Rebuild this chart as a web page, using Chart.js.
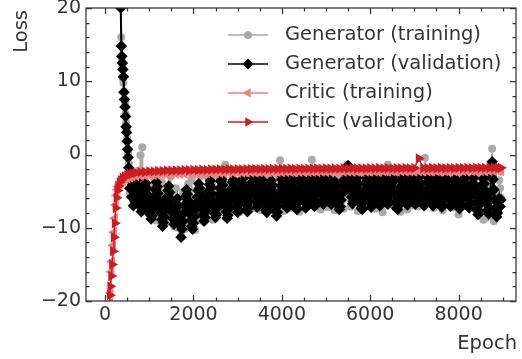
<!DOCTYPE html>
<html>
<head>
<meta charset="utf-8">
<script src="https://cdn.jsdelivr.net/npm/chart.js"></script>
<style>
html, body { margin: 0; padding: 0; background: #fff; }
#wrap { width: 522px; height: 359px; }
</style>
</head>
<body>
<div id="wrap"><canvas id="lossChart" width="522" height="359"></canvas></div>
<script>
// epochs logged for the generator (dense at the start, every 20 afterwards)
const genEpochs = [354,366,378,390,402,414,426,438,450,462,474,486,498,510,522,534,546,560,580,600,620,640,660,680,700,
  720,740,760,780,800,820,840,860,880,900,920,940,960,980,1000,1020,1040,1060,1080,1100,
  1120,1140,1160,1180,1200,1220,1240,1260,1280,1300,1320,1340,1360,1380,1400,1420,1440,1460,1480,1500,
  1520,1540,1560,1580,1600,1620,1640,1660,1680,1700,1720,1740,1760,1780,1800,1820,1840,1860,1880,1900,
  1920,1940,1960,1980,2000,2020,2040,2060,2080,2100,2120,2140,2160,2180,2200,2220,2240,2260,2280,2300,
  2320,2340,2360,2380,2400,2420,2440,2460,2480,2500,2520,2540,2560,2580,2600,2620,2640,2660,2680,2700,
  2720,2740,2760,2780,2800,2820,2840,2860,2880,2900,2920,2940,2960,2980,3000,3020,3040,3060,3080,3100,
  3120,3140,3160,3180,3200,3220,3240,3260,3280,3300,3320,3340,3360,3380,3400,3420,3440,3460,3480,3500,
  3520,3540,3560,3580,3600,3620,3640,3660,3680,3700,3720,3740,3760,3780,3800,3820,3840,3860,3880,3900,
  3920,3940,3960,3980,4000,4020,4040,4060,4080,4100,4120,4140,4160,4180,4200,4220,4240,4260,4280,4300,
  4320,4340,4360,4380,4400,4420,4440,4460,4480,4500,4520,4540,4560,4580,4600,4620,4640,4660,4680,4700,
  4720,4740,4760,4780,4800,4820,4840,4860,4880,4900,4920,4940,4960,4980,5000,5020,5040,5060,5080,5100,
  5120,5140,5160,5180,5200,5220,5240,5260,5280,5300,5320,5340,5360,5380,5400,5420,5440,5460,5480,5500,
  5520,5540,5560,5580,5600,5620,5640,5660,5680,5700,5720,5740,5760,5780,5800,5820,5840,5860,5880,5900,
  5920,5940,5960,5980,6000,6020,6040,6060,6080,6100,6120,6140,6160,6180,6200,6220,6240,6260,6280,6300,
  6320,6340,6360,6380,6400,6420,6440,6460,6480,6500,6520,6540,6560,6580,6600,6620,6640,6660,6680,6700,
  6720,6740,6760,6780,6800,6820,6840,6860,6880,6900,6920,6940,6960,6980,7000,7020,7040,7060,7080,7100,
  7120,7140,7160,7180,7200,7220,7240,7260,7280,7300,7320,7340,7360,7380,7400,7420,7440,7460,7480,7500,
  7520,7540,7560,7580,7600,7620,7640,7660,7680,7700,7720,7740,7760,7780,7800,7820,7840,7860,7880,7900,
  7920,7940,7960,7980,8000,8020,8040,8060,8080,8100,8120,8140,8160,8180,8200,8220,8240,8260,8280,8300,
  8320,8340,8360,8380,8400,8420,8440,8460,8480,8500,8520,8540,8560,8580,8600,8620,8640,8660,8680,8700,
  8720,8740,8760,8780,8800,8820,8840,8860,8880,8900,8920,8940,8960];

const genTrain = [21,16.0,12.7,12.0,10.4,9.8,8.6,7.5,7.2,5.6,4.4,3.4,2.2,0.4,0.2,-1.2,-2.4,-5.2,-2.6,-4.8,-3.6,-6.2,-4.4,-5.8,-4.6,
  -3.0,-4.5,-2.2,-3.8,-0.1,-2.5,1.0,-4.0,-3.5,-5.2,-6.5,-4.4,-2.7,-6.0,-8.0,-6.6,-4.6,-5.3,-3.0,-6.1,
  -3.4,-7.2,-9.0,-6.5,-5.5,-7.9,-8.8,-6.0,-3.8,-8.1,-9.5,-5.7,-7.0,-6.8,-4.4,-7.4,-9.2,-6.2,-3.0,-5.8,
  -6.5,-8.3,-9.8,-7.0,-4.6,-8.9,-10.0,-7.7,-7.4,-9.3,-11.0,-8.5,-5.2,-7.2,-10.2,-9.1,-8.8,-6.6,-4.0,-7.9,
  -9.6,-6.1,-3.4,-7.0,-8.5,-9.2,-10.3,-6.4,-4.8,-7.5,-8.4,-5.9,-3.0,-6.8,-9.0,-7.3,-5.6,-8.0,-8.2,-6.5,
  -3.1,-5.6,-7.7,-6.2,-5.0,-7.1,-8.9,-5.4,-2.8,-4.6,-6.4,-7.3,-8.0,-5.8,-3.5,-6.0,-7.4,-5.2,-4.9,-6.7,
  -1.4,-4.8,-8.0,-6.1,-4.2,-5.5,-7.3,-5.0,-2.9,-6.4,-7.6,-6.9,-5.6,-4.7,-3.6,-5.9,-7.9,-6.2,-4.0,-5.4,
  -7.0,-5.2,-2.8,-4.7,-6.4,-5.5,-7.4,-6.3,-4.1,-5.8,-2.6,-4.9,-7.3,-6.0,-5.5,-4.4,-3.0,-5.1,-6.6,-5.7,
  -7.6,-5.5,-3.1,-4.4,-5.7,-6.0,-2.7,-5.2,-7.2,-5.8,-4.6,-5.3,-3.3,-4.9,-7.5,-6.2,-2.9,-4.7,-6.1,-5.6,
  -3.2,-4.9,-0.8,-3.9,-6.2,-5.1,-7.7,-6.0,-3.6,-4.8,-5.2,-5.7,-2.8,-5.0,-7.3,-6.1,-4.4,-5.4,-6.8,-4.6,
  -6.0,-4.7,-3.0,-5.3,-7.8,-6.1,-4.2,-5.0,-2.9,-4.4,-5.5,-6.3,-7.0,-5.2,-3.3,-4.8,-6.2,-4.5,-0.7,-3.8,
  -3.4,-5.6,-6.9,-4.9,-2.8,-4.0,-4.9,-6.3,-7.5,-5.4,-3.2,-4.6,-5.8,-4.2,-2.7,-5.5,-7.2,-6.0,-4.5,-5.1,
  -2.9,-4.3,-5.1,-6.2,-7.6,-5.4,-3.5,-5.0,-6.4,-4.6,-2.8,-3.9,-4.7,-6.1,-7.4,-5.2,-3.0,-2.6,-1.4,-4.2,
  -5.4,-6.0,-7.1,-4.8,-2.7,-4.5,-6.2,-5.3,-4.0,-5.8,-7.7,-5.5,-3.3,-4.6,-5.9,-6.3,-6.8,-5.0,-3.1,-4.4,
  -4.5,-5.8,-7.0,-4.7,-2.9,-4.4,-6.3,-5.1,-3.6,-5.6,-7.4,-6.0,-5.1,-4.2,-2.8,-5.3,-6.6,-7.0,-7.9,-6.1,
  -4.1,-3.6,-2.7,-2.2,-1.4,-4.5,-6.8,-5.4,-4.3,-3.9,-3.0,-5.6,-7.2,-6.1,-5.0,-4.4,-2.9,-5.3,-7.8,-6.0,
  -3.1,-4.7,-6.4,-5.5,-4.6,-6.0,-7.5,-5.2,-2.8,-4.1,-5.3,-6.2,-6.9,-5.0,-3.5,-4.3,-4.8,-5.9,-7.1,-5.6,
  -2.9,-4.2,-5.6,-6.3,-7.0,-4.0,-0.45,-2.9,-3.8,-5.1,-6.2,-4.5,-2.8,-3.7,-4.9,-6.0,-7.3,-5.2,-3.4,-4.8,
  -6.5,-4.6,-3.0,-4.2,-5.2,-6.4,-7.6,-5.7,-4.1,-3.6,-2.7,-4.9,-6.9,-5.8,-5.0,-4.1,-3.3,-5.5,-7.2,-6.1,
  -4.7,-5.4,-6.0,-7.3,-8.2,-5.9,-3.1,-5.0,-7.0,-5.6,-4.4,-3.8,-2.8,-4.9,-6.7,-6.1,-5.3,-4.5,-3.6,-5.7,
  -6.8,-5.1,-3.3,-5.6,-7.5,-6.2,-5.0,-4.3,-2.9,-5.8,-7.7,-8.3,-8.9,-7.4,-6.1,-7.0,-8.6,-6.3,-4.0,-5.5,
  -7.2,-2.0,0.8,-4.8,-9.1,-8.0,-6.3,-7.1,-8.4,-5.6,-3.5,-4.6,-5.9];

const genVal = [20.0,14.8,13.4,12.5,11.6,10.6,8.5,7.5,6.5,5.2,3.8,3.0,1.8,0.7,-0.4,-1.8,-3.0,-4.6,-3.2,-5.8,-4.1,-7.0,-3.6,-6.4,-5.0,
  -3.4,-4.3,-5.2,-6.1,-7.0,-7.8,-7.4,-6.5,-5.6,-4.7,-3.9,-4.6,-5.5,-6.4,-7.3,-8.2,-8.8,-8.4,-7.5,-6.6,
  -5.7,-4.8,-3.8,-4.4,-5.3,-6.2,-7.1,-8.0,-8.9,-9.8,-9.3,-8.5,-7.6,-6.7,-5.8,-4.9,-4.3,-5.2,-6.1,-7.0,
  -7.9,-8.8,-9.5,-8.7,-7.8,-6.9,-6.0,-7.0,-8.3,-9.7,-11.3,-10.2,-9.1,-8.0,-6.9,-5.8,-4.8,-5.4,-6.3,-7.2,
  -8.1,-9.0,-9.8,-10.2,-9.4,-8.5,-7.6,-6.7,-5.8,-4.9,-4.0,-4.6,-5.5,-6.4,-7.3,-8.2,-9.1,-8.6,-7.7,-6.8,
  -5.9,-5.0,-4.1,-3.6,-4.5,-5.4,-6.3,-7.2,-8.1,-8.6,-8.2,-7.3,-6.4,-5.5,-4.6,-3.7,-3.4,-4.2,-5.1,-6.0,
  -6.9,-7.8,-8.7,-8.3,-7.4,-6.5,-5.6,-4.7,-3.8,-3.5,-4.4,-5.3,-6.2,-7.1,-7.9,-7.5,-6.6,-5.7,-4.8,-3.9,
  -3.3,-4.2,-5.1,-6.0,-6.9,-7.8,-7.4,-6.5,-5.6,-4.7,-3.8,-3.1,-3.7,-4.6,-5.5,-6.4,-7.2,-6.9,-6.0,-5.1,
  -4.2,-3.4,-4.0,-4.9,-5.8,-6.7,-7.6,-7.9,-7.2,-6.3,-5.4,-4.5,-3.6,-4.1,-5.0,-5.9,-6.8,-7.7,-8.4,-7.9,
  -7.0,-6.1,-5.2,-4.3,-3.4,-3.0,-3.8,-4.7,-5.6,-6.5,-7.3,-6.9,-6.0,-5.1,-4.2,-3.3,-3.6,-4.5,-5.4,-6.3,
  -7.2,-7.5,-6.6,-5.7,-4.8,-3.9,-3.2,-3.7,-4.6,-5.5,-6.4,-7.3,-6.8,-5.9,-5.0,-4.1,-3.3,-4.0,-4.9,-5.8,
  -6.7,-7.1,-6.3,-5.4,-4.5,-3.6,-3.0,-3.5,-4.4,-5.3,-6.2,-6.8,-6.4,-5.5,-4.6,-3.7,-3.2,-4.1,-5.0,-5.9,
  -6.8,-6.4,-5.5,-4.6,-3.7,-4.3,-5.2,-6.1,-7.0,-7.5,-7.1,-6.2,-5.3,-4.4,-3.5,-4.0,-4.9,-4.2,-3.0,-1.5,
  -3.1,-4.0,-4.9,-5.8,-6.7,-6.4,-5.5,-4.6,-3.7,-3.2,-4.1,-5.0,-5.9,-6.8,-7.3,-7.5,-6.6,-5.7,-4.8,-3.9,
  -3.2,-3.6,-4.5,-5.4,-6.3,-7.2,-6.8,-5.9,-5.0,-4.1,-3.2,-3.7,-4.6,-5.5,-6.4,-7.0,-6.6,-5.7,-4.8,-3.9,
  -3.3,-4.1,-5.0,-5.9,-6.8,-6.5,-5.6,-4.7,-3.8,-3.1,-3.7,-4.6,-5.5,-6.4,-7.3,-7.5,-7.0,-6.1,-5.2,-4.3,
  -3.4,-3.0,-3.8,-4.7,-5.6,-6.5,-6.9,-6.2,-5.3,-4.4,-3.5,-3.2,-4.1,-5.0,-5.9,-6.8,-6.4,-5.5,-4.6,-3.7,
  -3.1,-3.9,-4.8,-5.7,-6.6,-7.0,-6.6,-5.7,-4.8,-3.9,-3.2,-3.6,-4.5,-5.4,-6.3,-7.0,-6.7,-5.8,-4.9,-4.0,
  -3.2,-3.7,-4.6,-5.5,-6.4,-7.2,-6.9,-6.0,-5.1,-4.2,-3.3,-3.5,-4.4,-5.3,-6.2,-7.1,-6.9,-6.0,-5.1,-4.2,
  -3.3,-3.8,-4.7,-5.6,-6.5,-7.4,-7.0,-6.1,-5.2,-4.3,-3.4,-3.2,-4.1,-5.0,-5.9,-6.8,-7.3,-6.6,-5.7,-4.8,
  -3.9,-3.2,-4.4,-5.5,-6.6,-7.6,-8.2,-7.7,-6.8,-5.9,-5.0,-4.1,-3.3,-4.0,-4.9,-5.8,-6.7,-7.6,-8.1,-7.3,
  -5.2,-3.0,-1.0,-3.4,-4.8,-6.2,-7.4,-8.5,-8.0,-7.0,-6.0,-7.1,-6.2];

// epochs logged for the critic
const criticEpochs = [100,110,120,140,160,180,200,220,240,260,280,300,330,360,400,450,500,560,620,
  700,800,900,1000,1100,1200,1300,1400,1500,1600,
  1700,1800,1900,2000,2100,2200,2300,2400,2500,2600,
  2700,2800,2900,3000,3100,3200,3300,3400,3500,3600,
  3700,3800,3900,4000,4100,4200,4300,4400,4500,4600,
  4700,4800,4900,5000,5100,5200,5300,5400,5500,5600,
  5700,5800,5900,6000,6100,6200,6300,6400,6500,6600,
  6700,6800,6900,7000,7100,7200,7300,7400,7500,7600,
  7700,7800,7900,8000,8100,8200,8300,8400,8500,8600,
  8700,8800,8900,8960];

const criticTrain = [-22.8,-20.3,-18.9,-16.0,-14.6,-12.4,-10.6,-8.7,-6.9,-5.6,-4.8,-4.4,-4.1,-3.85,-3.6,-3.4,-3.25,-3.1,-3.02,
  -2.95,-2.90,-2.83,-2.81,-2.76,-2.75,-2.70,-2.70,-2.66,-2.65,
  -2.63,-2.62,-2.59,-2.59,-2.56,-2.57,-2.54,-2.55,-2.52,-2.52,
  -2.50,-2.50,-2.47,-2.49,-2.46,-2.47,-2.44,-2.46,-2.43,-2.44,
  -2.42,-2.43,-2.41,-2.42,-2.40,-2.41,-2.39,-2.40,-2.38,-2.39,
  -2.37,-2.38,-2.36,-2.38,-2.35,-2.37,-2.35,-2.36,-2.34,-2.36,
  -2.33,-2.35,-2.33,-2.34,-2.32,-2.34,-2.31,-2.33,-2.31,-2.33,
  -2.30,-2.32,-2.30,-2.32,-2.29,-2.31,-2.29,-2.31,-2.28,-2.30,
  -2.28,-2.30,-2.27,-2.29,-2.27,-2.29,-2.26,-2.28,-2.26,-2.28,
  -2.25,-2.27,-2.25,-2.26];

const criticVal = [-21.5,-19.2,-18.0,-16.6,-15.0,-13.2,-11.3,-9.4,-7.3,-5.9,-4.9,-4.3,-3.8,-3.5,-3.2,-3.0,-2.85,-2.7,-2.6,
  -2.50,-2.40,-2.39,-2.31,-2.31,-2.25,-2.26,-2.20,-2.21,-2.16,
  -2.18,-2.13,-2.15,-2.10,-2.12,-2.08,-2.10,-2.05,-2.07,-2.03,
  -2.06,-2.02,-2.04,-2.00,-2.03,-1.99,-2.01,-1.98,-2.00,-1.97,
  -1.99,-1.96,-1.98,-1.95,-1.97,-1.94,-1.97,-1.93,-1.96,-1.93,
  -1.95,-1.92,-1.94,-1.91,-1.94,-1.91,-1.93,-1.90,-1.92,-1.90,
  -1.92,-1.89,-1.91,-1.88,-1.91,-1.88,-1.90,-1.87,-1.90,-1.87,
  -1.89,-1.86,-1.89,-1.86,-0.55,-1.85,-1.88,-1.85,-1.88,-1.84,
  -1.87,-1.84,-1.87,-1.83,-1.86,-1.83,-1.86,-1.82,-1.85,-1.82,
  -1.85,-1.81,-1.84,-1.82];

const xTicks = [0, 2000, 4000, 6000, 8000];
const xMinor = [500,1000,1500,2500,3000,3500,4500,5000,5500,6500,7000,7500,8500,9000];
const yTicks = [-20, -10, 0, 10, 20];
const yMinor = [-18,-16,-14,-12,-8,-6,-4,-2,2,4,6,8,12,14,16,18];

const FONT = 'DejaVu Sans';
const INK = '#333333';

function pairs(xs, ys) {
  return xs.map((e, i) => ({ x: e, y: ys[i] }));
}

// plain numbers with a real minus sign, like matplotlib
function tickText(v) {
  return v < 0 ? '\u2212' + Math.abs(v) : String(v);
}

// axes frame with inward ticks on all four sides, plus the axis titles
const frameTicks = {
  id: 'frameTicks',
  afterDraw(chart) {
    const { ctx, chartArea: a, scales: { x, y } } = chart;
    ctx.save();
    ctx.strokeStyle = INK;
    ctx.lineWidth = 1.25;
    ctx.strokeRect(a.left, a.top, a.right - a.left, a.bottom - a.top);
    ctx.beginPath();
    const xt = (vals, len) => vals.forEach(v => {
      const px = Math.round(x.getPixelForValue(v)) + 0.5;
      ctx.moveTo(px, a.bottom); ctx.lineTo(px, a.bottom - len);
      ctx.moveTo(px, a.top); ctx.lineTo(px, a.top + len);
    });
    const yt = (vals, len) => vals.forEach(v => {
      const py = Math.round(y.getPixelForValue(v)) + 0.5;
      ctx.moveTo(a.left, py); ctx.lineTo(a.left + len, py);
      ctx.moveTo(a.right, py); ctx.lineTo(a.right - len, py);
    });
    xt(xTicks, 6); xt(xMinor, 3.5);
    yt(yTicks, 6); yt(yMinor, 3.5);
    ctx.stroke();

    ctx.fillStyle = INK;
    ctx.font = '19.5px "' + FONT + '"';
    ctx.textBaseline = 'alphabetic';
    ctx.textAlign = 'right';
    ctx.fillText('Epoch', a.right + 1, 349);
    ctx.translate(27, a.top + 2);
    ctx.rotate(-Math.PI / 2);
    ctx.fillText('Loss', 0, 0);
    ctx.restore();
  }
};

// legend drawn inside the plot, matplotlib style (line + marker)
const lossLegend = {
  id: 'lossLegend',
  afterDraw(chart) {
    const ctx = chart.ctx;
    ctx.save();
    chart.data.datasets.forEach((ds, i) => {
      const yy = 35 + i * 29;
      ctx.strokeStyle = ds.borderColor;
      ctx.lineWidth = 1.5;
      ctx.beginPath();
      ctx.moveTo(228, yy);
      ctx.lineTo(268, yy);
      ctx.stroke();
      ctx.fillStyle = ds.pointBackgroundColor;
      ctx.strokeStyle = ds.pointBackgroundColor;
      Chart.helpers.drawPoint(ctx, {
        pointStyle: ds.pointStyle, rotation: ds.pointRotation || 0,
        radius: Math.min(ds.pointRadius, 5.4), borderWidth: 0
      }, 248, yy);
      ctx.fillStyle = INK;
      ctx.font = '19.5px "' + FONT + '"';
      ctx.textBaseline = 'middle';
      ctx.textAlign = 'left';
      ctx.fillText(ds.label, 285, yy);
    });
    ctx.restore();
  }
};

const ctx = document.getElementById('lossChart');
new Chart(ctx, {
  type: 'line',
  data: {
    datasets: [{
      label: 'Generator (training)',
      data: pairs(genEpochs, genTrain),
      borderColor: '#aaaaaa',
      pointBackgroundColor: '#aaaaaa',
      borderWidth: 1.5,
      pointStyle: 'circle',
      pointRadius: 4,
      pointBorderWidth: 0,
      order: 4
    }, {
      label: 'Generator (validation)',
      data: pairs(genEpochs, genVal),
      borderColor: '#000000',
      pointBackgroundColor: '#000000',
      borderWidth: 2,
      pointStyle: 'rectRot',
      pointRadius: 5.8,
      pointBorderWidth: 0,
      order: 3
    }, {
      label: 'Critic (training)',
      data: pairs(criticEpochs, criticTrain),
      borderColor: '#f08080',
      pointBackgroundColor: '#f08080',
      borderWidth: 1.5,
      pointStyle: 'triangle',
      pointRotation: -90,
      pointRadius: 6,
      pointBorderWidth: 0,
      order: 2
    }, {
      label: 'Critic (validation)',
      data: pairs(criticEpochs, criticVal),
      borderColor: '#cc1c22',
      pointBackgroundColor: '#cc1c22',
      borderWidth: 1.5,
      pointStyle: 'triangle',
      pointRotation: 90,
      pointRadius: 6,
      pointBorderWidth: 0,
      order: 1
    }]
  },
  options: {
    responsive: false,
    animation: false,
    devicePixelRatio: 1,
    layout: { padding: { left: 0, right: 2, top: 8, bottom: 0 } },
    datasets: { line: { tension: 0, clip: 0 } },
    plugins: {
      legend: { display: false },
      tooltip: { enabled: false }
    },
    scales: {
      x: {
        type: 'linear',
        min: -433,
        max: 9300,
        grid: { display: false, drawTicks: false },
        border: { display: false },
        ticks: { color: INK, font: { family: FONT, size: 19 }, padding: 3, callback: v => tickText(v) },
        afterBuildTicks: s => { s.ticks = xTicks.map(v => ({ value: v })); },
        afterFit: s => { s.height = 58; s.paddingLeft = 0; s.paddingRight = 0; }
      },
      y: {
        min: -20,
        max: 20,
        grid: { display: false, drawTicks: false },
        border: { display: false },
        ticks: { color: INK, font: { family: FONT, size: 19 }, padding: 5, callback: v => tickText(v) },
        afterBuildTicks: s => { s.ticks = yTicks.map(v => ({ value: v })); },
        afterFit: s => { s.width = 86; s.paddingTop = 0; s.paddingBottom = 0; }
      }
    }
  },
  plugins: [frameTicks, lossLegend]
});
</script>
</body>
</html>
